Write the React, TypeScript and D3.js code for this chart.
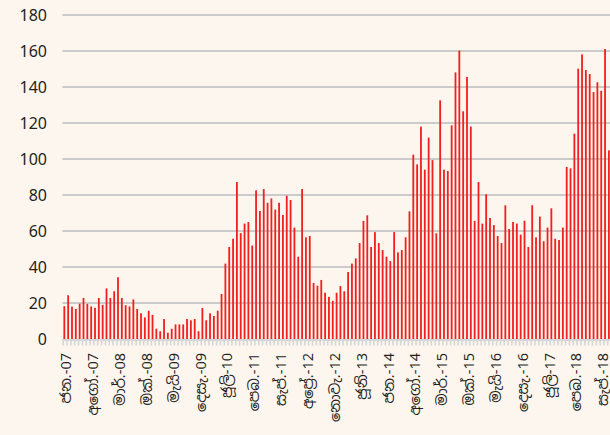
import * as d3 from "d3";
import React, { useRef, useEffect } from "react";

// Sinhala month abbreviations
const monthNames = ["ජන.", "පෙබ.", "මාර්.", "අප්‍රේ.", "මැයි", "ජූනි", "ජූලි", "අගෝ.", "සැප්.", "ඔක්.", "නොවැ.", "දෙසැ."];
const years = ["07", "08", "09", "10", "11", "12", "13", "14", "15", "16", "17", "18"];

// monthly values, Jan 2007 - Nov 2018
const values = [
  18.2, 24.3, 18, 16.7, 19.6, 22.8, 19.5, 18.1, 17.3, 22.8, 18.9, 28.1,
  22.8, 26.5, 34.3, 22.8, 18.8, 18.1, 22, 16.7, 14.3, 12, 15.7, 13.4,
  5.7, 4.3, 11.1, 3.5, 5.7, 8.1, 8.1, 8.1, 11.1, 10.4, 11.1, 4.3,
  17.2, 10.4, 14.3, 12.8, 15.7, 25, 41.9, 51.1, 55.7, 87.2, 58.8, 64.1,
  65, 51.9, 82.6, 71.1, 83.3, 75.7, 78.1, 71.9, 75.7, 68.9, 79.6, 77.2,
  61.9, 45.7, 83.3, 56.5, 57.2, 31.1, 29.6, 32.8, 25.7, 23.4, 21.2, 25.7,
  29.4, 26.5, 37.2, 41.9, 44.8, 53.3, 65.6, 68.7, 51.1, 59.4, 53.3, 49.4,
  45.7, 43.3, 59.4, 48.1, 49.4, 56.5, 70.9, 102.4, 97, 118, 94.1, 111.9,
  99.4, 58.7, 132.6, 94.1, 93.3, 118.7, 148.1, 160.2, 126.5, 145.6, 118, 65.6,
  87.2, 64.1, 80.4, 67.2, 63.3, 57.2, 53.3, 74.3, 61.1, 65, 64.1, 58,
  65.7, 51.1, 74.3, 56.5, 68, 54.3, 61.9, 72.6, 55.7, 55, 61.9, 95.6,
  94.8, 114.1, 150.2, 158.1, 149.4, 147.2, 137.2, 142.6, 137.9, 161.1, 104.8,
];

const yTicks = [0, 20, 40, 60, 80, 100, 120, 140, 160, 180];
const labelEvery = 7;

const categories = values.map((_, i) => `${monthNames[i % 12]}-${years[Math.floor(i / 12)]}`);

function App() {
  const ref = useRef<SVGSVGElement>(null);

  useEffect(() => {
    document.body.style.margin = "0";
    document.body.style.background = "#fdf6ee";
    const svg = d3.select(ref.current);
    svg.selectAll("*").remove();
    draw(svg);
  }, []);

  const draw = (svg: any) => {
    const width = 610, height = 435;
    const left = 62.4, right = 610.8, top = 15, bottom = 339;

    svg.append("rect").attr("width", width).attr("height", height).attr("fill", "#fdf6ee");

    const x = d3.scaleBand().domain(categories).range([left, right]).padding(0);
    const y = d3.scaleLinear().domain([0, 180]).range([bottom, top]);

    // gridlines
    svg.append("g")
      .selectAll("line")
      .data(yTicks.filter(d => d > 0))
      .enter()
      .append("line")
      .attr("x1", left)
      .attr("x2", width)
      .attr("y1", (d: number) => y(d))
      .attr("y2", (d: number) => y(d))
      .attr("stroke", "#bdbdbd")
      .attr("stroke-width", 1.5);

    // y labels
    svg.append("g")
      .selectAll("text")
      .data(yTicks)
      .enter()
      .append("text")
      .attr("x", 47)
      .attr("y", (d: number) => y(d))
      .attr("dy", "0.36em")
      .attr("text-anchor", "end")
      .attr("font-family", "'Noto Sans', sans-serif")
      .attr("font-size", 16)
      .attr("fill", "#231f20")
      .text((d: number) => d);

    // x axis ticks
    const axis = svg.append("g");
    axis.append("line")
      .attr("x1", left).attr("x2", width)
      .attr("y1", bottom + 1).attr("y2", bottom + 1)
      .attr("stroke", "#d6d6d6").attr("stroke-width", 2);
    axis.selectAll(".tk")
      .data(categories)
      .enter()
      .append("line")
      .attr("x1", (d: string) => x(d)! + 0.8)
      .attr("x2", (d: string) => x(d)! + 0.8)
      .attr("y1", bottom)
      .attr("y2", bottom + 6.5)
      .attr("stroke", "#d6d6d6")
      .attr("stroke-width", 1.6);

    // bars
    const bw = 1.8;
    svg.append("g")
      .selectAll("rect")
      .data(values)
      .enter()
      .append("rect")
      .attr("x", (d: number, i: number) => x(categories[i])! + x.bandwidth() / 2 - bw / 2)
      .attr("y", (d: number) => y(d))
      .attr("width", bw)
      .attr("height", (d: number) => bottom - y(d))
      .attr("fill", "#f21f1f");

    // x labels
    svg.append("g")
      .selectAll("text")
      .data(categories.filter((_, i) => i % labelEvery === 0))
      .enter()
      .append("text")
      .attr("transform", (d: string) => `translate(${x(d)! + x.bandwidth() / 2 + 2},${bottom + 14}) rotate(-90)`)
      .attr("dy", "0.35em")
      .attr("text-anchor", "end")
      .attr("font-family", "'Noto Sans Sinhala', 'Iskoola Pota', 'Noto Sans', sans-serif")
      .attr("font-size", 14.5)
      .attr("fill", "#231f20")
      .text((d: string) => d);
  };

  return (
    <div style={{ position: "absolute", left: 0, top: 0 }}>
      <svg ref={ref} width={610} height={435}></svg>
    </div>
  );
}

export default App;
